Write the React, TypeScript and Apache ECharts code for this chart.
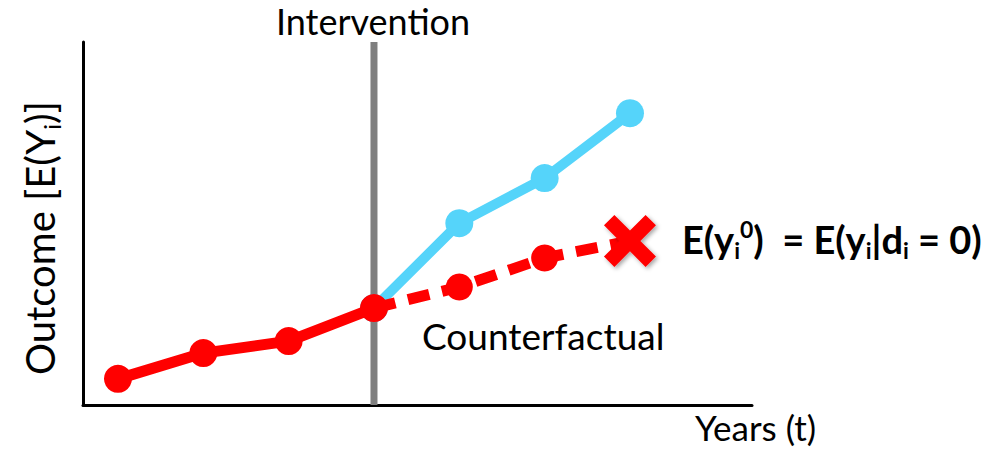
import React, { useEffect, useRef } from "react";
import * as echarts from "echarts";

// Data (t = years index, value = outcome on an arbitrary 0–10 scale)
const observedT = [0, 1, 2, 3];
const observedY = [0.72, 1.43, 1.76, 2.67];
const treatedT = [3, 4, 5, 6];
const treatedY = [2.67, 5.01, 6.25, 8.04];
const counterT = [3, 4, 5, 6];
const counterY = [2.67, 3.25, 4.05, 4.52];
const interventionT = 3;
const yRange = [0, 10];
const xRange = [-0.41, 7.43];

const FONT = "Lato, 'Open Sans', sans-serif";
const RED = "#ff0000";
const BLUE = "#55d4fa";
const X_PATH =
  "path://M20,0 L50,30 L80,0 L100,20 L70,50 L100,80 L80,100 L50,70 L20,100 L0,80 L30,50 L0,20 Z";

const pairs = (xs: number[], ys: number[]) => xs.map((x, i) => [x, ys[i]]);

export default function App() {
  const ref = useRef<HTMLDivElement>(null);
  useEffect(() => {
    if (!ref.current) return;
    const chart = echarts.init(ref.current, undefined, { renderer: "svg" });
    const counterData: any[] = pairs(counterT, counterY);
    const last = counterData.length - 1;
    counterData[last] = {
      value: counterData[last],
      symbol: X_PATH,
      symbolSize: 52,
      itemStyle: {
        color: RED,
        shadowBlur: 4,
        shadowColor: "rgba(0,0,0,0.35)",
        shadowOffsetX: 2,
        shadowOffsetY: 2,
      },
    };
    const main = { fontFamily: FONT, fontSize: 40, lineHeight: 46, color: "#000" };
    const sub = { fontFamily: FONT, fontSize: 24, lineHeight: 24, verticalAlign: "bottom", color: "#000" };
    const bMain = { fontFamily: FONT, fontSize: 38, lineHeight: 44, fontWeight: "bold", color: "#000" };
    const bSub = { fontFamily: FONT, fontSize: 23, lineHeight: 22, verticalAlign: "bottom", fontWeight: "bold", color: "#000" };
    const bSup = { fontFamily: FONT, fontSize: 23, lineHeight: 22, verticalAlign: "top", fontWeight: "bold", color: "#000" };
    const plain = (text: string, x: number, y: number, align: string, size: number) => ({
      type: "text",
      x,
      y,
      style: {
        text,
        fontFamily: FONT,
        fontSize: size,
        lineHeight: 30,
        fill: "#000",
        align,
        verticalAlign: "middle",
      },
    });
    chart.setOption({
      animation: false,
      backgroundColor: "#ffffff",
      grid: { left: 83, right: 256, top: 42, bottom: 45 },
      xAxis: {
        type: "value",
        min: xRange[0],
        max: xRange[1],
        axisLine: { show: true, onZero: false, lineStyle: { color: "#000", width: 3 } },
        axisTick: { show: false },
        axisLabel: { show: false },
        splitLine: { show: false },
      },
      yAxis: {
        type: "value",
        min: yRange[0],
        max: yRange[1],
        axisLine: { show: true, onZero: false, lineStyle: { color: "#000", width: 3 } },
        axisTick: { show: false },
        axisLabel: { show: false },
        splitLine: { show: false },
      },
      series: [
        {
          type: "line",
          data: [
            [interventionT, yRange[0]],
            [interventionT, yRange[1]],
          ],
          symbol: "none",
          lineStyle: { color: "#7f7f7f", width: 7 },
          z: 1,
        },
        {
          type: "line",
          data: pairs(treatedT, treatedY),
          symbol: "circle",
          symbolSize: 28,
          itemStyle: { color: BLUE },
          lineStyle: { color: BLUE, width: 10 },
          z: 2,
        },
        {
          type: "line",
          data: counterData,
          symbol: "circle",
          symbolSize: 27,
          itemStyle: { color: RED },
          lineStyle: { color: RED, width: 11, type: [22, 13] },
          z: 3,
        },
        {
          type: "line",
          data: pairs(observedT, observedY),
          symbol: "circle",
          symbolSize: 28,
          itemStyle: { color: RED },
          lineStyle: { color: RED, width: 11 },
          z: 4,
        },
      ],
      graphic: [
        plain("Intervention", 373, 21, "center", 36),
        plain("Counterfactual", 422, 335, "left", 37),
        plain("Years (t)", 695, 427, "left", 35),
        {
          type: "text",
          x: 682,
          y: 239,
          style: {
            text: "{b|E(y}{s|i}{p|0}{b|)  = E(y}{s|i}{b||d}{s|i}{b| = 0)}",
            align: "left",
            verticalAlign: "middle",
            rich: { b: bMain, s: bSub, p: bSup },
          },
        },
        {
          type: "text",
          x: 40,
          y: 238,
          rotation: Math.PI / 2,
          style: {
            text: "{m|Outcome [E(Y}{s|i}{m|)]}",
            align: "center",
            verticalAlign: "middle",
            rich: { m: main, s: sub },
          },
        },
      ],
    });
    return () => chart.dispose();
  }, []);
  return (
    <div
      ref={ref}
      style={{ position: "fixed", left: 0, top: 0, width: 1008, height: 450, background: "#fff" }}
    />
  );
}
